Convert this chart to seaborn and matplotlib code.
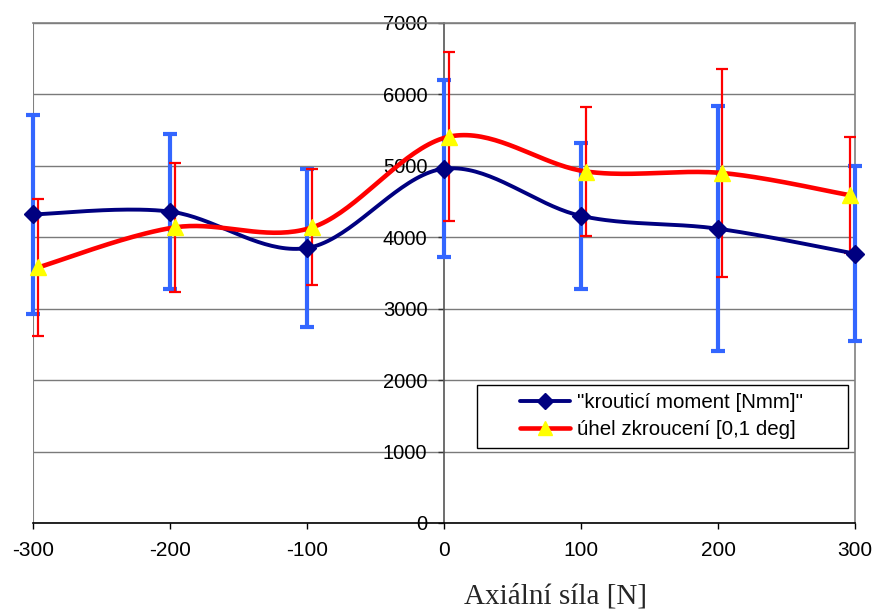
import matplotlib
matplotlib.use("Agg")
import matplotlib.pyplot as plt
from matplotlib.lines import Line2D
from matplotlib.patches import Rectangle
import seaborn as sns
import pandas as pd
import numpy as np

# values
moment_x = [-300, -200, -100, 0, 100, 200, 300]
moment_y = [4320, 4360, 3850, 4960, 4300, 4120, 3770]
moment_err = [1395, 1080, 1100, 1240, 1020, 1715, 1225]

angle_x = [-296, -196, -96, 4, 104, 203, 296]
angle_y = [3580, 4140, 4140, 5410, 4920, 4900, 4590]
angle_err = [955, 900, 810, 1180, 900, 1450, 815]

x_ticks = [-300, -200, -100, 0, 100, 200, 300]
y_ticks = [0, 1000, 2000, 3000, 4000, 5000, 6000, 7000]

labels = ['"krouticí moment [Nmm]"', "úhel zkroucení [0,1 deg]"]
x_title = "Axiální síla [N]"


def smooth(xs, ys, n=40):
    # Excel-like smoothed line (Catmull-Rom as cubic Bezier)
    p = np.column_stack([xs, ys]).astype(float)
    p = np.vstack([p[0], p, p[-1]])
    out = []
    for i in range(1, len(p) - 2):
        p0, p1, p2, p3 = p[i - 1], p[i], p[i + 1], p[i + 2]
        c1 = p1 + (p2 - p0) / 6
        c2 = p2 - (p3 - p1) / 6
        t = np.linspace(0, 1, n)[:, None]
        seg = ((1 - t) ** 3) * p1 + 3 * ((1 - t) ** 2) * t * c1 + 3 * (1 - t) * t ** 2 * c2 + t ** 3 * p2
        out.append(seg if i == 1 else seg[1:])
    seg = np.vstack(out)
    return pd.DataFrame({"x": seg[:, 0], "y": seg[:, 1]})


sns.set_style("white")
plt.rcParams["font.family"] = ["Liberation Sans", "DejaVu Sans"]
plt.rcParams["axes.unicode_minus"] = False

fig = plt.figure(figsize=(8.74, 6.15), dpi=100)
ax = fig.add_axes([33 / 874, 92 / 615, 822 / 874, 500 / 615])
ax.set_xlim(-300, 300)
ax.set_ylim(0, 7000)

navy = "#000080"
blue = "#3366FF"
red = "#FF0000"
yellow = "#FFFF00"

# error bars
ax.errorbar(moment_x, moment_y, yerr=moment_err, fmt="none", ecolor=blue,
            elinewidth=3, capsize=5, capthick=3, zorder=3, clip_on=False)
ax.errorbar(angle_x, angle_y, yerr=angle_err, fmt="none", ecolor=red,
            elinewidth=1.6, capsize=4.5, capthick=1.6, zorder=3, clip_on=False)

# smoothed lines
sns.lineplot(data=smooth(moment_x, moment_y), x="x", y="y", sort=False,
             color=navy, lw=2.8, ax=ax, zorder=4)
sns.lineplot(data=smooth(angle_x, angle_y), x="x", y="y", sort=False,
             color=red, lw=3.3, ax=ax, zorder=5)

# markers
ax.plot(moment_x, moment_y, ls="none", marker="D", ms=9.5, color=navy, zorder=6, clip_on=False)
ax.plot(angle_x, angle_y, ls="none", marker="^", ms=11, color=yellow, zorder=7, clip_on=False)

# axes styling (Excel look)
ax.set_xlabel("")
ax.set_ylabel("")
ax.set_xticks(x_ticks)
ax.set_yticks(y_ticks)
ax.yaxis.grid(True, color="#7a7a7a", lw=1)
ax.xaxis.grid(False)
ax.set_axisbelow(True)

ax.spines["left"].set_position(("data", 0))
ax.spines["left"].set_color("#555555")
ax.spines["left"].set_zorder(2)
ax.spines["right"].set_color("#808080")
ax.spines["top"].set_color("#808080")
ax.spines["bottom"].set_color("black")
for s in ax.spines.values():
    s.set_linewidth(1.2)
ax.axvline(-300, color="#808080", lw=1.5, zorder=1)

ax.tick_params(axis="y", direction="out", length=4, width=1, color="#333333",
               pad=8, labelsize=14.5, labelcolor="black", left=True)
ax.tick_params(axis="x", direction="out", length=4, width=1, color="black",
               pad=9, labelsize=15, labelcolor="black", bottom=True)

# legend box (Excel style, content right of a wide left margin)
ax.add_patch(Rectangle((477 / 874, 1 - 448 / 615), 371 / 874, 63 / 615,
                       transform=fig.transFigure, facecolor="white",
                       edgecolor="black", lw=1, zorder=9, clip_on=False))
handles = [
    Line2D([], [], color=navy, lw=2.8, marker="D", ms=8.5, mfc=navy, mec=navy),
    Line2D([], [], color=red, lw=3.3, marker="^", ms=10, mfc=yellow, mec=yellow),
]
leg = ax.legend(handles, labels, loc="center left",
                bbox_to_anchor=(520 / 874, 1 - 416 / 615), bbox_transform=fig.transFigure,
                fontsize=14.8, frameon=False, handlelength=2.45, handletextpad=0.3,
                borderpad=0, labelspacing=0.38, borderaxespad=0)
for t in leg.get_texts():
    t.set_color("black")
leg.set_zorder(10)

fig.text(556 / 874, 1 - 597 / 615, x_title, ha="center", va="center",
         fontsize=21, family=["Liberation Serif", "DejaVu Serif"])

fig.savefig("out.png", dpi=100)
